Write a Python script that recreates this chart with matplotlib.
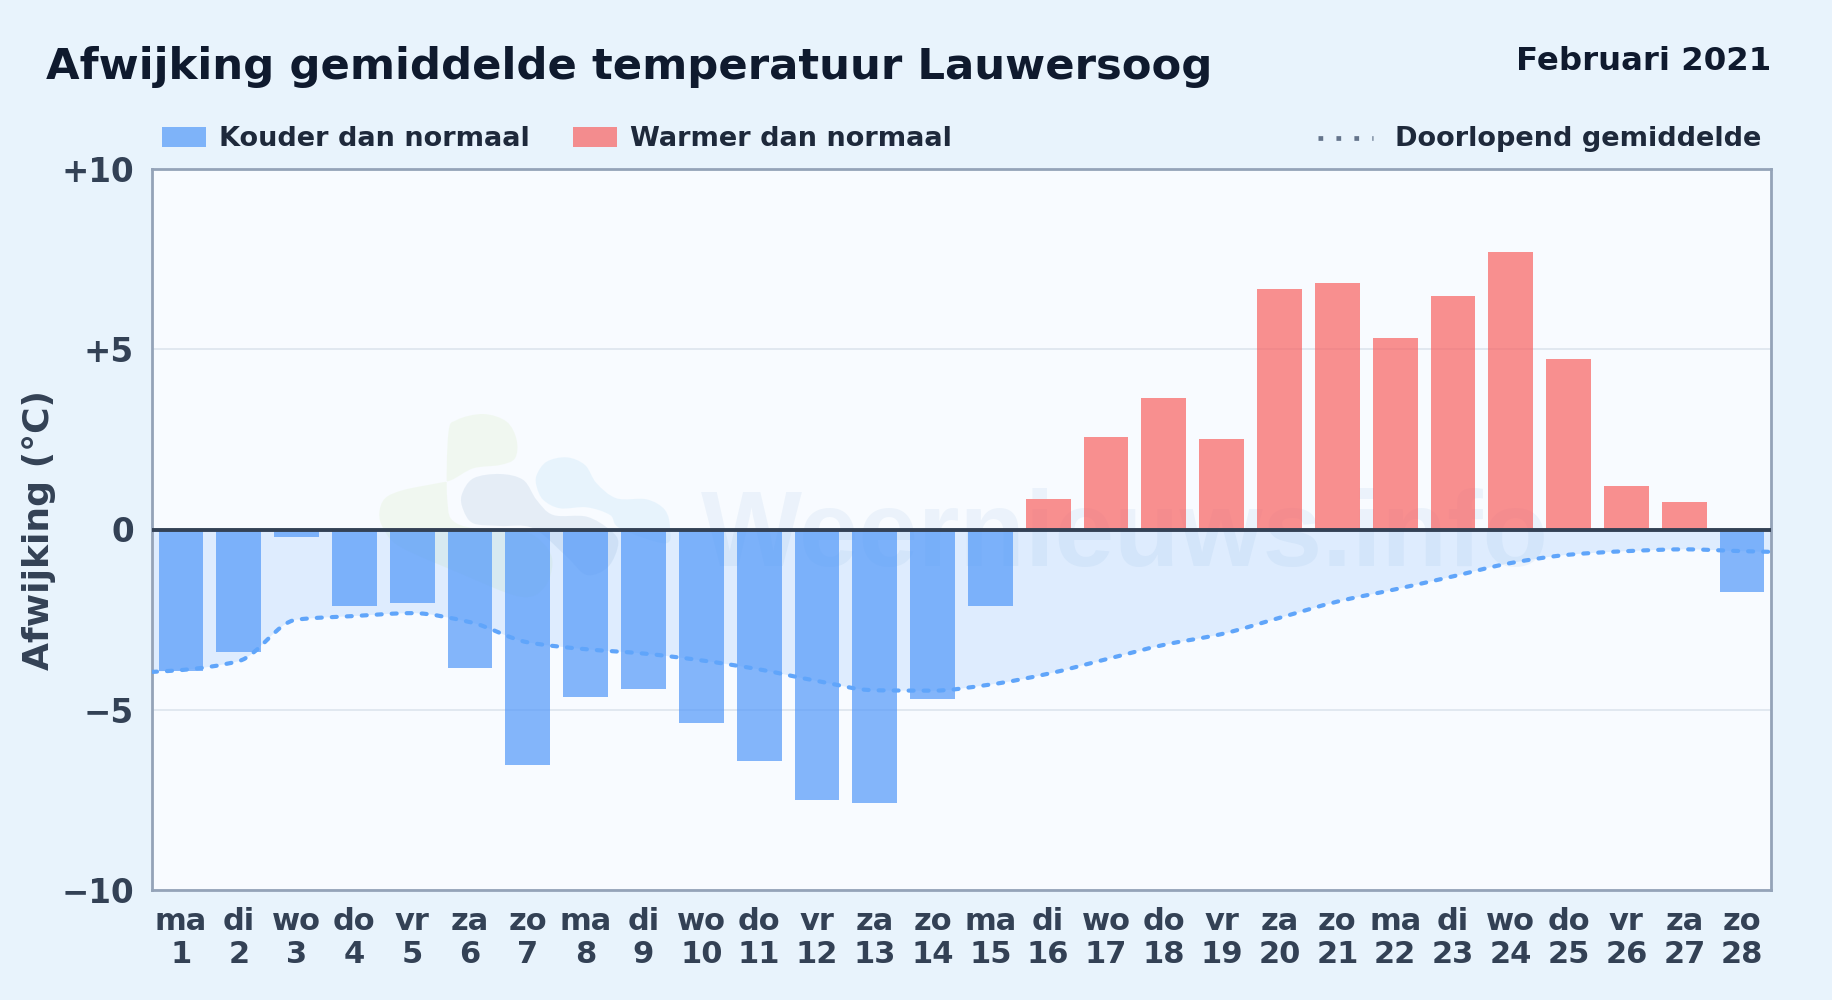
import numpy as np
import matplotlib
matplotlib.use("Agg")
import matplotlib.pyplot as plt
from matplotlib.patches import Rectangle, PathPatch
from matplotlib.path import Path

W, H = 1832, 1000

days = ["ma", "di", "wo", "do", "vr", "za", "zo"]
dates = list(range(1, 29))
afwijking = [-3.93, -3.4, -0.2, -2.13, -2.03, -3.84, -6.53, -4.65, -4.43, -5.38, -6.43, -7.5, -7.6, -4.7,
             -2.13, 0.85, 2.57, 3.65, 2.5, 6.67, 6.85, 5.3, 6.47, 7.7, 4.72, 1.2, 0.75, -1.73]
gemiddelde = [-3.9, -3.65, -2.5, -2.4, -2.32, -2.57, -3.13, -3.32, -3.44, -3.63, -3.88, -4.2, -4.46, -4.47,
              -4.3, -4.0, -3.6, -3.2, -2.9, -2.45, -2.0, -1.66, -1.3, -0.93, -0.7, -0.6, -0.55, -0.6]
gem_links, gem_rechts = -3.95, -0.62
yticks = [-10, -5, 0, 5, 10]
ylabels = ["\u221210", "\u22125", "0", "+5", "+10"]

BLAUW = "#5198f9"
ROOD = "#f96160"
BAR_ALPHA = 0.7

# watermark logo outlines, in 3x pixels relative to (360, 400)
blob_groen = [(265, 100), (290, 60), (370, 42), (440, 65), (470, 120), (465, 175), (420, 195), (340, 205),
              (275, 240), (230, 250), (130, 270), (75, 295), (58, 340), (70, 385), (120, 440), (300, 520),
              (480, 590), (555, 560), (575, 470), (510, 400), (420, 395), (290, 370), (262, 300)]
blob_midden = [(305, 285), (340, 235), (420, 222), (490, 240), (530, 300), (580, 345), (680, 350), (750, 390),
               (775, 430), (745, 500), (680, 525), (620, 470), (520, 385), (420, 378), (340, 370), (310, 330)]
blob_licht = [(530, 225), (560, 185), (620, 172), (675, 195), (710, 250), (770, 295), (860, 298), (915, 330),
              (930, 385), (915, 430), (780, 385), (750, 345), (680, 322), (600, 325), (550, 300), (530, 260)]


def smooth_path(x, y):
    # cubic segments through the points, harmonic mean tangents so it does not overshoot
    x, y = np.asarray(x, float), np.asarray(y, float)
    s = np.diff(y) / np.diff(x)
    dy = np.zeros(len(x))
    dy[0], dy[-1] = s[0], s[-1]
    for i in range(1, len(x) - 1):
        if s[i - 1] * s[i] > 0:
            dy[i] = 2 * s[i - 1] * s[i] / (s[i - 1] + s[i])
    verts = [(x[0], y[0])]
    codes = [Path.MOVETO]
    for i in range(len(x) - 1):
        h = (x[i + 1] - x[i]) / 3
        verts += [(x[i] + h, y[i] + h * dy[i]), (x[i + 1] - h, y[i + 1] - h * dy[i + 1]), (x[i + 1], y[i + 1])]
        codes += [Path.CURVE4] * 3
    return verts, codes


def draw_blob(ax, pts, color, alpha):
    p = np.array(pts, float)
    p = np.c_[(360 + p[:, 0] / 3) / W, 1 - (400 + p[:, 1] / 3) / H]
    n = len(p)
    verts = [p[0]]
    codes = [Path.MOVETO]
    for i in range(n):
        a, b, c, d = p[i - 1], p[i], p[(i + 1) % n], p[(i + 2) % n]
        verts += [b + (c - a) / 6, c - (d - b) / 6, c]
        codes += [Path.CURVE4] * 3
    ax.add_patch(PathPatch(Path(verts, codes), fc=color, ec="none", alpha=alpha, transform=ax.figure.transFigure,
                           zorder=0.8))


fig = plt.figure(figsize=(W / 100, H / 100), dpi=100, facecolor="#e8f3fc")
ax = fig.add_axes([152 / W, 1 - 890 / H, (1771 - 152) / W, (890 - 169) / H], facecolor="#f8fbff")

x = np.arange(28)
lx = np.r_[-0.5, x, 27.5]
ly = np.r_[gem_links, gemiddelde, gem_rechts]
verts, codes = smooth_path(lx, ly)

draw_blob(ax, blob_groen, "#c8e6a0", 0.15)
draw_blob(ax, blob_midden, "#628fbc", 0.12)
draw_blob(ax, blob_licht, "#73c1ee", 0.12)
ax.text(701 / W, 1 - 566 / H, "Weernieuws.info", transform=fig.transFigure, family="Liberation Sans",
        fontweight="bold", fontsize=77, color="#1e6fc0", alpha=0.06, va="baseline", ha="left", zorder=0.9)

ax.add_patch(PathPatch(Path(verts + [(27.5, 0), (-0.5, 0), (-0.5, gem_links)], codes + [Path.LINETO] * 3),
                       fc="#60a5fa", ec="none", alpha=0.17, zorder=1))
kleuren = [BLAUW if v < 0 else ROOD for v in afwijking]
ax.bar(x, afwijking, width=0.775, color=kleuren, alpha=BAR_ALPHA, zorder=2)
ax.add_patch(PathPatch(Path(verts, codes), fc="none", ec="#60a5fa", lw=3,
                       linestyle=(0, (1.2, 2.4)), capstyle="round", zorder=3))
ax.axhline(0, color="#334155", lw=2.8, zorder=4)

ax.set_xlim(-0.5, 27.5)
ax.set_ylim(-10, 10)
ax.set_yticks(yticks, ylabels)
ax.set_xticks(x, [f"{days[i % 7]}\n{d}" for i, d in enumerate(dates)])
ax.tick_params(length=0)
ax.tick_params(axis="y", labelsize=23.5, labelcolor="#334155", pad=13)
ax.tick_params(axis="x", labelsize=22, labelcolor="#334155", pad=12.5)
for t in ax.get_xticklabels() + ax.get_yticklabels():
    t.set_fontweight("bold")
for t in ax.get_xticklabels():
    t.set_linespacing(1.14)
ax.grid(axis="y", color="#dde5ee", lw=1.2, zorder=0)
ax.set_axisbelow(True)
for s in ax.spines.values():
    s.set_color("#94a3b8")
    s.set_linewidth(2)

fig.text(39 / W, 1 - 530 / H, "Afwijking (\u00b0C)", rotation=90, fontsize=26, fontweight="bold", color="#334155",
         ha="center", va="center")
fig.text(46 / W, 1 - 67 / H, "Afwijking gemiddelde temperatuur Lauwersoog", fontsize=31.2, fontweight="bold",
         color="#0f1a2e", ha="left", va="center")
fig.text(1771 / W, 1 - 61 / H, "Februari 2021", fontsize=23.3, fontweight="bold", color="#0f1a2e", ha="right", va="center")

# legend
fig.add_artist(Rectangle((162 / W, 1 - 147 / H), 44 / W, 20 / H, transform=fig.transFigure, fc=BLAUW, alpha=BAR_ALPHA, ec="none"))
fig.text(219 / W, 1 - 139 / H, "Kouder dan normaal", fontsize=19.5, fontweight="bold", color="#1e293b", va="center")
fig.add_artist(Rectangle((573 / W, 1 - 147 / H), 44 / W, 20 / H, transform=fig.transFigure, fc=ROOD, alpha=BAR_ALPHA, ec="none"))
fig.text(630 / W, 1 - 139 / H, "Warmer dan normaal", fontsize=19.5, fontweight="bold", color="#1e293b", va="center")
fig.add_artist(plt.Line2D([1318 / W, 1373 / W], [1 - 138 / H, 1 - 138 / H], transform=fig.transFigure,
                          color="#64748b", lw=3.4, linestyle=(0, (1, 2.8))))
fig.text(1761 / W, 1 - 139 / H, "Doorlopend gemiddelde", fontsize=19.5, fontweight="bold", color="#1e293b",
         ha="right", va="center")

fig.savefig("out.png", dpi=100, facecolor=fig.get_facecolor())
